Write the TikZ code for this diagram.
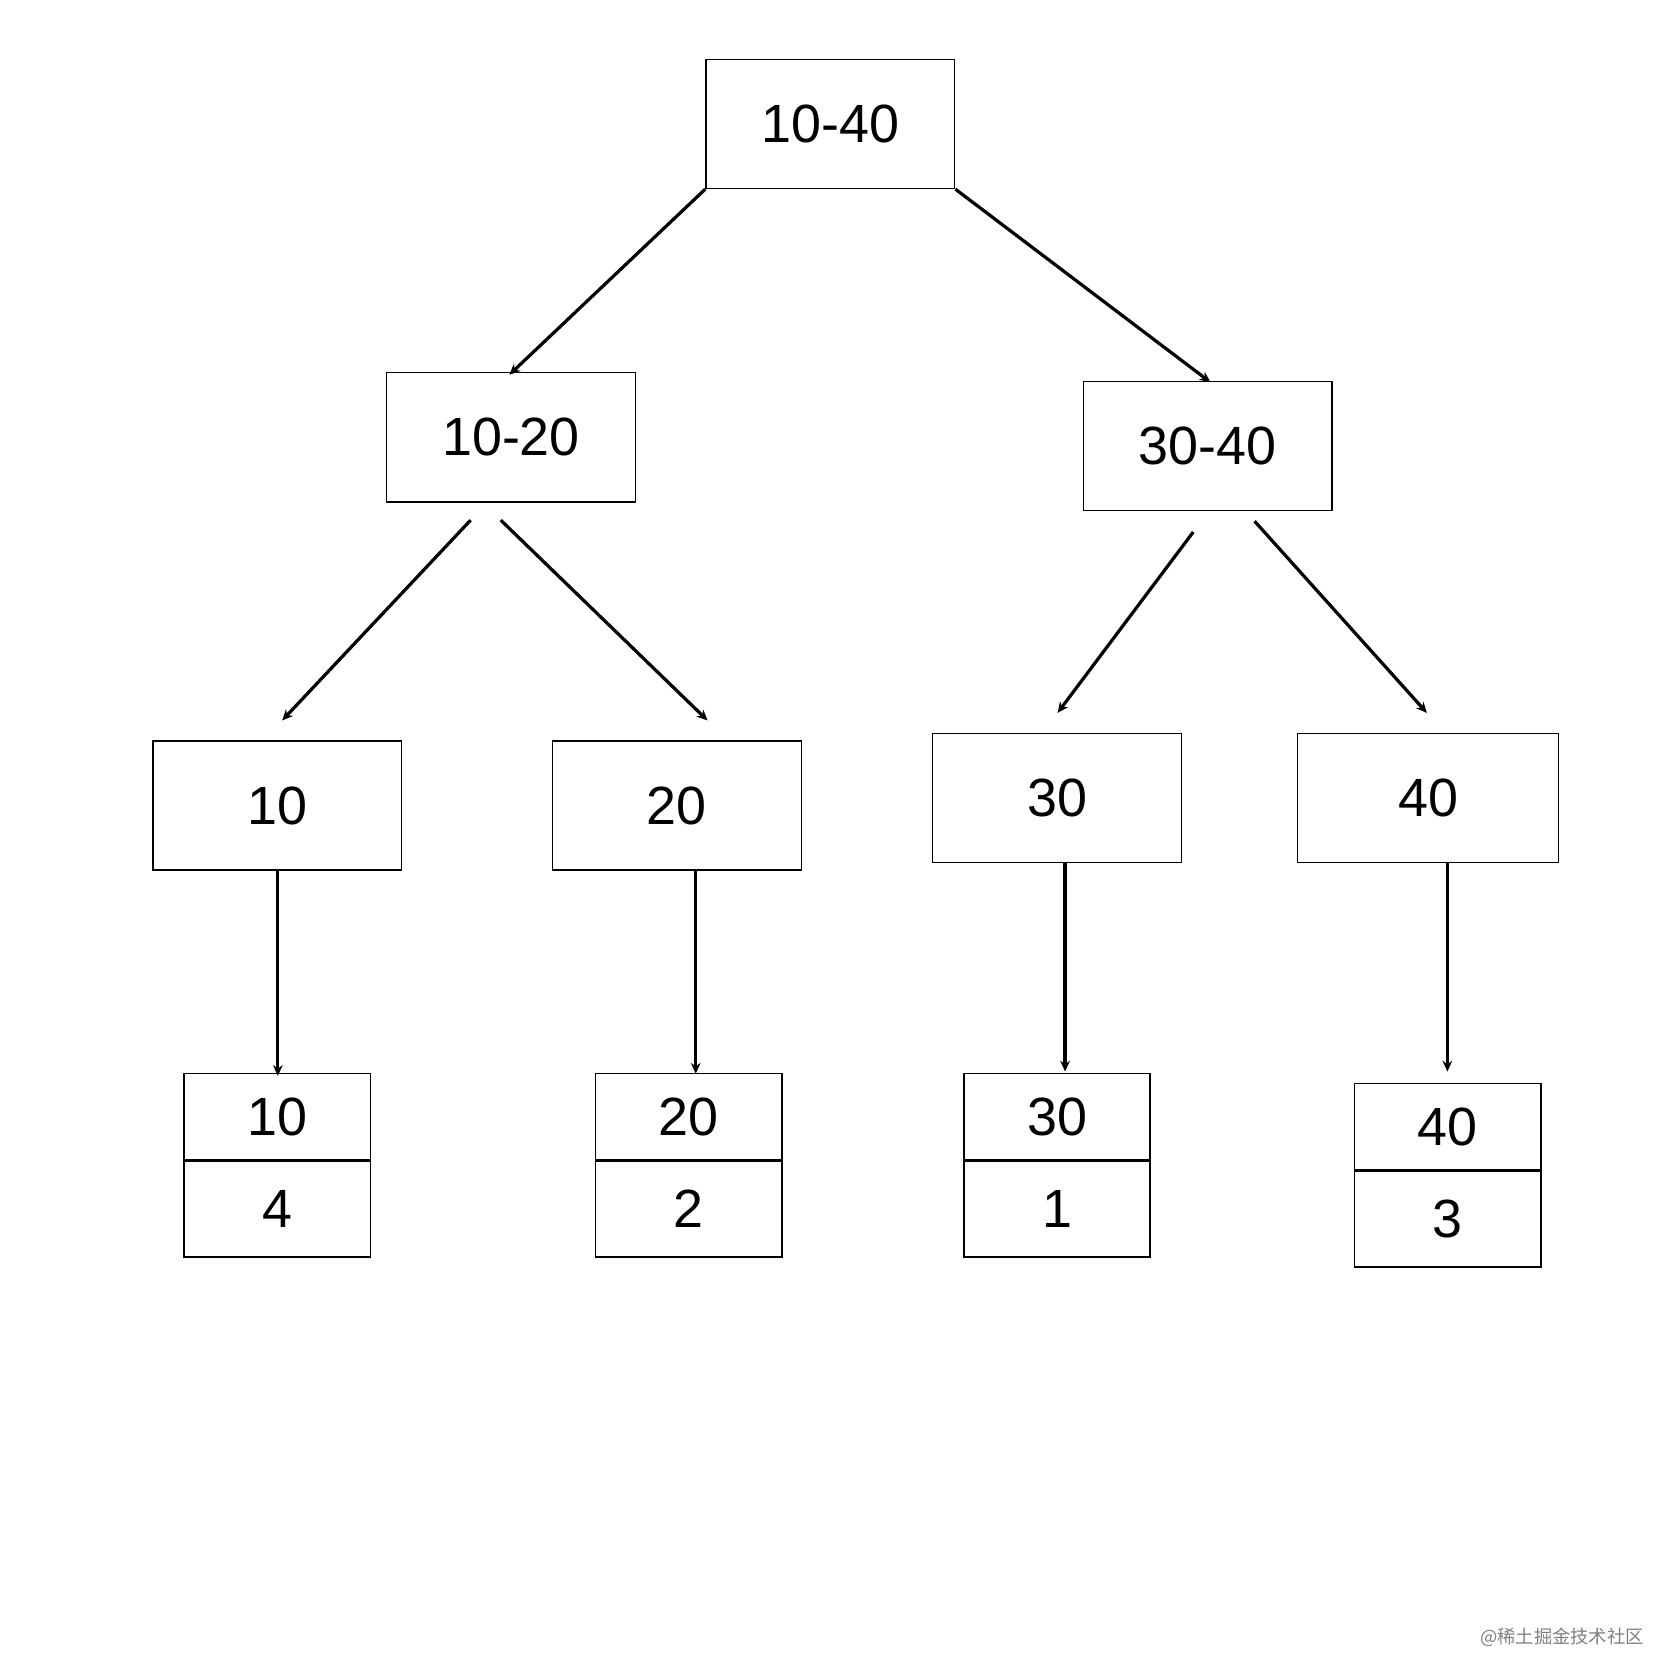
\documentclass[tikz,border=0pt]{standalone}
\usepackage{fontspec}
\setmainfont{Liberation Sans}
\newfontfamily\cjk{Noto Sans CJK SC}
\usetikzlibrary{arrows.meta}
\begin{document}
\begin{tikzpicture}[x=1pt,y=1pt,yscale=-1,xscale=1,
  box/.style={draw,line width=1.3pt,inner sep=0pt,font=\fontsize{50}{50}\selectfont},
  arr/.style={line width=3pt,-{Stealth[length=10pt,width=9pt]}}]
\useasboundingbox (0,0) rectangle (1560,1560);

%Inner nodes
\node[box,minimum width=231,minimum height=120] (r) at (771,115) {10-40};
\node[box,minimum width=231,minimum height=120] (a) at (474.5,406) {10-20};
\node[box,minimum width=231,minimum height=120] (b) at (1121.5,414) {30-40};
\node[box,minimum width=231,minimum height=120] (a1) at (257.5,748) {10};
\node[box,minimum width=231,minimum height=120] (a2) at (628.5,748) {20};
\node[box,minimum width=231,minimum height=120] (b1) at (981.5,741) {30};
\node[box,minimum width=242,minimum height=120] (b2) at (1326,741) {40};

%Leaves
\node[box,minimum width=173,minimum height=80] (l1) at (257.5,1037) {10};
\node[box,minimum width=173,minimum height=89,anchor=north] (v1) at (l1.south) {4};
\node[box,minimum width=173,minimum height=80] (l2) at (639.5,1037) {20};
\node[box,minimum width=173,minimum height=89,anchor=north] (v2) at (l2.south) {2};
\node[box,minimum width=173,minimum height=80] (l3) at (981.5,1037) {30};
\node[box,minimum width=173,minimum height=89,anchor=north] (v3) at (l3.south) {1};
\node[box,minimum width=173,minimum height=80] (l4) at (1344.5,1046) {40};
\node[box,minimum width=173,minimum height=89,anchor=north] (v4) at (l4.south) {3};

%Arrow ends
\coordinate (p1) at (437,483); \coordinate (q1) at (262,669);
\coordinate (p2) at (465,483); \coordinate (q2) at (657,669);
\coordinate (p3) at (1108,494); \coordinate (q3) at (982,662);
\coordinate (p4) at (1165,484); \coordinate (q4) at (1325,662);
\coordinate (p5) at (258,808); \coordinate (q5) at (258,999);
\coordinate (p6) at (646,808); \coordinate (q6) at (646,997);
\coordinate (p7) at (989,801); \coordinate (q7) at (989,995);
\coordinate (p8) at (1344,801); \coordinate (q8) at (1344,995);

\draw[arr] (r.south west) -- (473,348);
\draw[arr] (r.south east) -- (1124,355);
\foreach \i in {1,...,8} \draw[arr] (p\i) -- (q\i);

\node[anchor=east,text=gray,font=\cjk\fontsize{17}{17}\selectfont] (wm) at (1530,1520) {@稀土掘金技术社区};
\end{tikzpicture}
\end{document}
